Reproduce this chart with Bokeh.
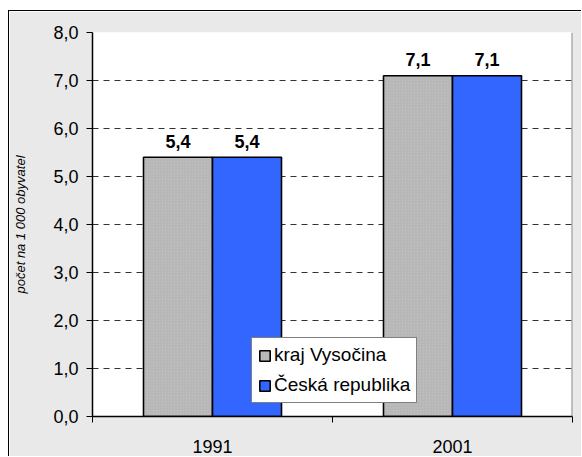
import numpy as np
from bokeh.plotting import figure
from bokeh.models import FixedTicker, Span, ColumnDataSource, Range1d
from bokeh.core.properties import value
from bokeh.embed import file_html
from bokeh.resources import INLINE

# ---- data ----
years = ["1991", "2001"]
kraj_vysocina = [5.4, 7.1]
ceska_republika = [5.4, 7.1]
y_ticks = [0, 1, 2, 3, 4, 5, 6, 7, 8]
y_tick_labels = ["0,0", "1,0", "2,0", "3,0", "4,0", "5,0", "6,0", "7,0", "8,0"]
series_names = ["kraj Vysočina", "Česká republika"]
y_axis_title = "počet na 1 000 obyvatel"

FONT = "Liberation Sans"
BAR_W = 0.2875

idx = np.arange(len(years))
centers = idx + 0.5

p = figure(width=573, height=446, output_backend="svg", toolbar_location=None,
           x_range=Range1d(0, len(years)), y_range=Range1d(0, 8),
           min_border_left=83, min_border_top=21, min_border_right=10,
           min_border_bottom=41)
p.margin = (10, 0, 0, 8)
p.styles = {"border-left": "1px solid black", "border-top": "1px solid black"}
p.background_fill_color = "white"
p.border_fill_color = "#e9e9e9"
p.outline_line_color = None

src1 = ColumnDataSource(dict(x=centers - BAR_W / 2, top=kraj_vysocina,
                             lab=[f"{v:.1f}".replace(".", ",") for v in kraj_vysocina]))
src2 = ColumnDataSource(dict(x=centers + BAR_W / 2, top=ceska_republika,
                             lab=[f"{v:.1f}".replace(".", ",") for v in ceska_republika]))

p.vbar(x="x", top="top", width=BAR_W, source=src1, fill_color="#c0c0c0",
       hatch_pattern="/", hatch_scale=3, hatch_color="#9a9a9a", hatch_weight=0.6,
       hatch_alpha=0.6, line_color="black", line_width=1.6,
       legend_label=series_names[0])
p.vbar(x="x", top="top", width=BAR_W, source=src2, fill_color="#3366ff",
       line_color="black", line_width=1.6, legend_label=series_names[1])

for src in (src1, src2):
    p.text(x="x", y="top", text="lab", source=src, y_offset=-16,
           text_align="center", text_baseline="alphabetic",
           text_font=value(FONT), text_font_size="18px", text_font_style="bold",
           text_color="black")

# right border of plot area
p.add_layout(Span(location=len(years), dimension="height", line_color="#808080",
                  line_width=2))

# y axis
yax = p.yaxis[0]
yax.ticker = FixedTicker(ticks=y_ticks)
yax.major_label_overrides = {t: l for t, l in zip(y_ticks, y_tick_labels)}
yax.major_label_text_font = FONT
yax.major_label_text_font_size = "18px"
yax.major_label_text_color = "black"
yax.major_tick_out = 6
yax.major_tick_in = 0
yax.minor_tick_line_color = None
yax.axis_line_color = "black"
yax.axis_line_width = 1.5
yax.major_label_standoff = 8
yax.axis_label = y_axis_title
yax.axis_label_text_font = FONT
yax.axis_label_text_font_size = "13px"
yax.axis_label_text_font_style = "italic"
yax.axis_label_text_color = "black"
yax.axis_label_standoff = 22

# x axis
xax = p.xaxis[0]
xax.ticker = FixedTicker(ticks=list(centers), minor_ticks=list(range(len(years) + 1)))
xax.major_label_overrides = {float(c): y for c, y in zip(centers, years)}
xax.major_label_text_font = FONT
xax.major_label_text_font_size = "18px"
xax.major_label_text_color = "black"
xax.major_tick_out = 0
xax.major_tick_in = 0
xax.minor_tick_out = 6
xax.minor_tick_in = 0
xax.minor_tick_line_color = "black"
xax.axis_line_color = "black"
xax.axis_line_width = 1.5
xax.major_label_standoff = 17

# grid
p.xgrid.grid_line_color = None
p.ygrid.ticker = FixedTicker(ticks=y_ticks[1:])
p.ygrid.grid_line_color = "#333333"
p.ygrid.grid_line_dash = "6 5"
p.ygrid.grid_line_width = 1

# legend
lg = p.legend[0]
lg.location = (159, 13)
lg.background_fill_color = "white"
lg.background_fill_alpha = 1
lg.border_line_color = "black"
lg.border_line_width = 1
lg.label_text_font = FONT
lg.label_text_font_size = "19px"
lg.label_text_color = "black"
lg.glyph_width = 13
lg.glyph_height = 13
lg.label_standoff = 3
lg.spacing = 8
lg.padding = 6
lg.margin = 0

open("out.html", "w").write(file_html(p, INLINE))
